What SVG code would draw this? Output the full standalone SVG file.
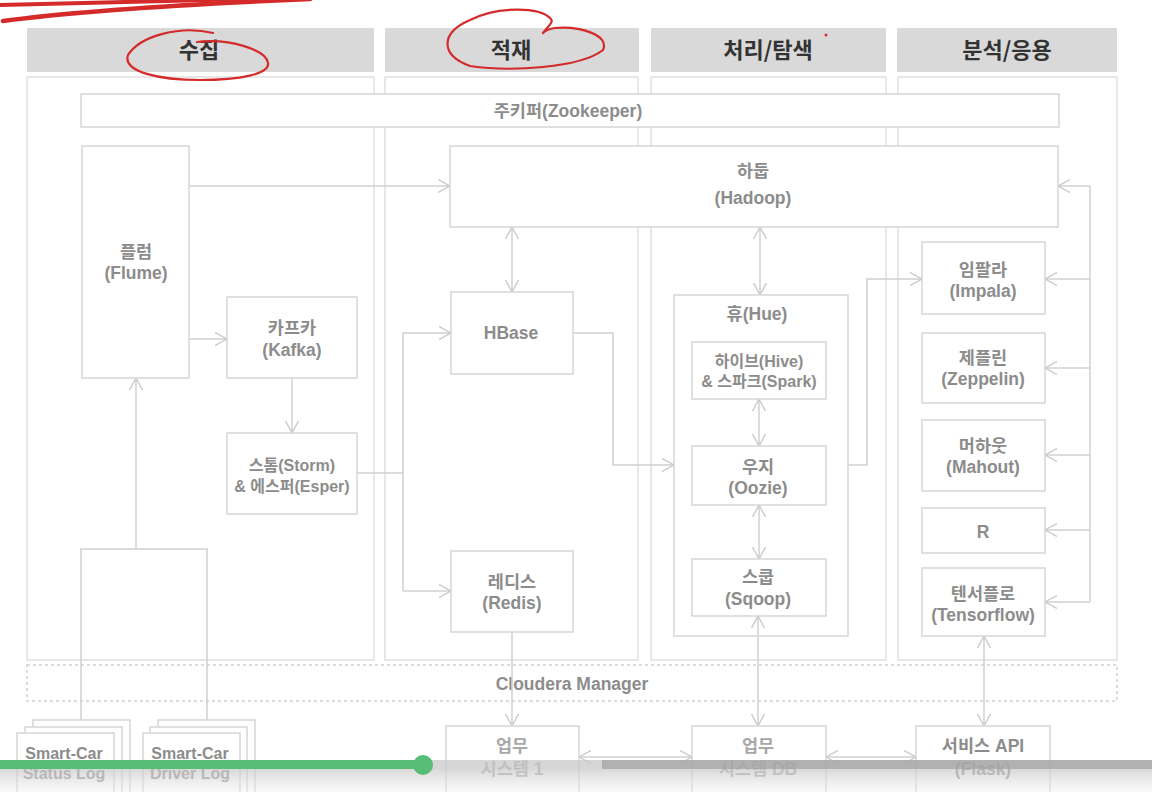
<svg xmlns="http://www.w3.org/2000/svg" width="1152" height="792" viewBox="0 0 1152 792">
<defs>
<style>
.hd{fill:#d9d9d9}
.pn{fill:#fff;stroke:#e0e0e0;stroke-width:1.5}
.bx{fill:#fff;stroke:#d6d6d6;stroke-width:1.5}
.ht{font-family:"Noto Sans CJK KR","Noto Sans",sans-serif;font-weight:bold;font-size:22px;fill:#333;text-anchor:middle}
.t{font-family:"Liberation Sans","Noto Sans CJK KR",sans-serif;font-weight:bold;font-size:17.5px;fill:#8c8c8c;text-anchor:middle}
.tl{font-family:"Liberation Sans","Noto Sans CJK KR",sans-serif;font-weight:bold;font-size:17.5px;fill:#a8a8a8;text-anchor:middle}
.s{font-size:16px}
.c{fill:none;stroke:#d0d0d0;stroke-width:1.5}
.red{fill:none;stroke:#d42a2a;stroke-linecap:round}
</style>
<marker id="a" viewBox="0 0 12 14" refX="12" refY="7" markerWidth="12" markerHeight="14" markerUnits="userSpaceOnUse" orient="auto-start-reverse">
<path d="M0,0.5 L12,7 L0,13.5" fill="none" stroke="#c8c8c8" stroke-width="1.3"/>
</marker>
<linearGradient id="g" x1="0" y1="0" x2="0" y2="1">
<stop offset="0" stop-color="#c8c8c8" stop-opacity="0.7"/>
<stop offset="1" stop-color="#f0f0f0" stop-opacity="0.4"/>
</linearGradient>
</defs>
<rect width="1152" height="792" fill="#fff"/>

<g id="headers">
<rect class="hd" x="27" y="28" width="347" height="44"/>
<rect class="hd" x="385" y="28" width="254" height="44"/>
<rect class="hd" x="651" y="28" width="235" height="44"/>
<rect class="hd" x="897" y="28" width="220" height="44"/>
<text class="ht" x="199" y="58">수집</text>
<text class="ht" x="511" y="58">적재</text>
<text class="ht" x="768" y="58">처리/탐색</text>
<text class="ht" x="1007" y="58">분석/응용</text>
</g>

<g id="panels">
<rect class="pn" x="27" y="77" width="347" height="583"/>
<rect class="pn" x="385" y="77" width="253" height="583"/>
<rect class="pn" x="651" y="77" width="235" height="583"/>
<rect class="pn" x="898" y="77" width="219" height="583"/>
</g>

<g id="cloudera">
<rect x="27" y="665" width="1090" height="36" fill="none" stroke="#d0d0d0" stroke-width="1.5" stroke-dasharray="3,3"/>
<text class="t" x="572" y="690">Cloudera Manager</text>
</g>

<g id="zookeeper">
<rect class="bx" x="81" y="94" width="978" height="33"/>
<text class="t" x="568" y="117">주키퍼(Zookeeper)</text>
</g>

<g id="connectors">
<path class="c" d="M189,186 H450" marker-end="url(#a)"/>
<path class="c" d="M189,339 H227" marker-end="url(#a)"/>
<path class="c" d="M292,378 V433" marker-end="url(#a)"/>
<path class="c" d="M136,549 V378" marker-end="url(#a)"/>
<path class="c" d="M81,720 V549 H207 V720"/>
<path class="c" d="M357,473 H403"/>
<path class="c" d="M403,591 V333 H451" marker-end="url(#a)"/>
<path class="c" d="M403,591 H451" marker-end="url(#a)"/>
<path class="c" d="M512,227 V292" marker-start="url(#a)" marker-end="url(#a)"/>
<path class="c" d="M573,333 H613 V465 H674" marker-end="url(#a)"/>
<path class="c" d="M760,227 V295" marker-start="url(#a)" marker-end="url(#a)"/>
<path class="c" d="M759,399 V446" marker-start="url(#a)" marker-end="url(#a)"/>
<path class="c" d="M759,505 V559" marker-start="url(#a)" marker-end="url(#a)"/>
<path class="c" d="M758,616 V726" marker-start="url(#a)" marker-end="url(#a)"/>
<path class="c" d="M848,465 H867 V279 H922" marker-end="url(#a)"/>
<path class="c" d="M1090,186 V602"/>
<path class="c" d="M1090,186 H1058" marker-end="url(#a)"/>
<path class="c" d="M1090,279 H1045" marker-end="url(#a)"/>
<path class="c" d="M1090,368 H1045" marker-end="url(#a)"/>
<path class="c" d="M1090,455 H1045" marker-end="url(#a)"/>
<path class="c" d="M1090,530 H1045" marker-end="url(#a)"/>
<path class="c" d="M1090,602 H1045" marker-end="url(#a)"/>
<path class="c" d="M512,632 V726" marker-end="url(#a)"/>
<path class="c" d="M579,757 H692" marker-start="url(#a)" marker-end="url(#a)"/>
<path class="c" d="M826,757 H916" marker-start="url(#a)" marker-end="url(#a)"/>
<path class="c" d="M984,636 V726" marker-start="url(#a)" marker-end="url(#a)"/>
</g>

<g id="hadoop">
<rect class="bx" x="450" y="146" width="608" height="81"/>
<text class="t" x="753" y="177">하둡</text>
<text class="t" x="753" y="204">(Hadoop)</text>
</g>
<g id="flume">
<rect class="bx" x="82" y="146" width="107" height="232"/>
<text class="t" x="136" y="258">플럼</text>
<text class="t" x="136" y="279">(Flume)</text>
</g>
<g id="kafka">
<rect class="bx" x="227" y="297" width="130" height="81"/>
<text class="t" x="292" y="334">카프카</text>
<text class="t" x="292" y="356">(Kafka)</text>
</g>
<g id="storm">
<rect class="bx" x="227" y="433" width="130" height="81"/>
<text class="t s" x="292" y="471">스톰(Storm)</text>
<text class="t s" x="292" y="492">&amp; 에스퍼(Esper)</text>
</g>
<g id="hbase">
<rect class="bx" x="451" y="292" width="122" height="82"/>
<text class="t" x="511" y="339">HBase</text>
</g>
<g id="redis">
<rect class="bx" x="451" y="551" width="122" height="81"/>
<text class="t" x="512" y="588">레디스</text>
<text class="t" x="512" y="609">(Redis)</text>
</g>
<g id="hue">
<rect x="674" y="295" width="174" height="341" fill="none" stroke="#d6d6d6" stroke-width="1.5"/>
<text class="t" x="757" y="320">휴(Hue)</text>
</g>
<g id="hive">
<rect class="bx" x="692" y="342" width="134" height="57"/>
<text class="t s" x="759" y="367">하이브(Hive)</text>
<text class="t s" x="759" y="387">&amp; 스파크(Spark)</text>
</g>
<g id="oozie">
<rect class="bx" x="692" y="446" width="134" height="59"/>
<text class="t" x="758" y="473">우지</text>
<text class="t" x="758" y="494">(Oozie)</text>
</g>
<g id="sqoop">
<rect class="bx" x="692" y="559" width="134" height="57"/>
<text class="t" x="758" y="583">스쿱</text>
<text class="t" x="758" y="605">(Sqoop)</text>
</g>
<g id="impala">
<rect class="bx" x="922" y="242" width="123" height="72"/>
<text class="t" x="983" y="276">임팔라</text>
<text class="t" x="983" y="297">(Impala)</text>
</g>
<g id="zeppelin">
<rect class="bx" x="922" y="333" width="123" height="70"/>
<text class="t" x="983" y="364">제플린</text>
<text class="t" x="983" y="385">(Zeppelin)</text>
</g>
<g id="mahout">
<rect class="bx" x="922" y="420" width="123" height="71"/>
<text class="t" x="983" y="452">머하웃</text>
<text class="t" x="983" y="473">(Mahout)</text>
</g>
<g id="r">
<rect class="bx" x="922" y="508" width="123" height="45"/>
<text class="t" x="983" y="538">R</text>
</g>
<g id="tensorflow">
<rect class="bx" x="922" y="568" width="123" height="68"/>
<text class="t" x="983" y="600">텐서플로</text>
<text class="t" x="983" y="621">(Tensorflow)</text>
</g>
<g id="statuslog">
<rect class="bx" x="33" y="720" width="97" height="80"/>
<rect class="bx" x="25" y="727" width="97" height="80"/>
<rect class="bx" x="17" y="733" width="97" height="80"/>
<text class="t s" x="64" y="759">Smart-Car</text>
<text class="t s" x="64" y="779">Status Log</text>
</g>
<g id="driverlog">
<rect class="bx" x="158" y="720" width="97" height="80"/>
<rect class="bx" x="150" y="727" width="97" height="80"/>
<rect class="bx" x="143" y="733" width="97" height="80"/>
<text class="t s" x="190" y="759">Smart-Car</text>
<text class="t s" x="190" y="779">Driver Log</text>
</g>
<g id="system1">
<rect class="bx" x="446" y="726" width="133" height="80"/>
<text class="tl" x="512" y="752">업무</text>
<text class="tl" x="512" y="775">시스템 1</text>
</g>
<g id="systemdb">
<rect class="bx" x="692" y="726" width="134" height="80"/>
<text class="tl" x="758" y="752">업무</text>
<text class="tl" x="758" y="775">시스템 DB</text>
</g>
<g id="serviceapi">
<rect class="bx" x="916" y="726" width="134" height="80"/>
<text class="t" x="983" y="752">서비스 API</text>
<text class="t" x="983" y="775">(Flask)</text>
</g>

<g id="annotations">
<path class="red" style="stroke-width:4.5" d="M3,21 C70,12 170,5 310,-1"/>
<path class="red" style="stroke-width:4" d="M0,5 C60,3 150,1 250,-1"/>
<path class="red" style="stroke-width:2.2" d="M213,33 C180,25 140,36 128,55 C122,72 160,80 200,80 C240,80 270,74 268,63 C266,50 230,38 197,42"/>
<path class="red" style="stroke-width:2.2" d="M543,33 C548,26 555,22 550,18 C540,8 500,5 470,20 C440,33 440,55 470,66 C510,72 580,68 603,50 C610,35 580,26 555,28 C548,29 545,31 543,33"/>
<circle cx="826" cy="35" r="1.5" fill="#d42a2a"/>
</g>

<g id="player">
<rect x="0" y="769" width="1152" height="23" fill="url(#g)"/>
<rect x="423" y="760" width="180" height="9" fill="#c8c8c8" opacity="0.75"/>
<rect x="602" y="760" width="550" height="9" fill="#a8a8a8" opacity="0.9"/>
<rect x="0" y="760" width="423" height="9" fill="#55bd75"/>
<circle cx="423" cy="765" r="10" fill="#55bd75"/>
</g>
</svg>
